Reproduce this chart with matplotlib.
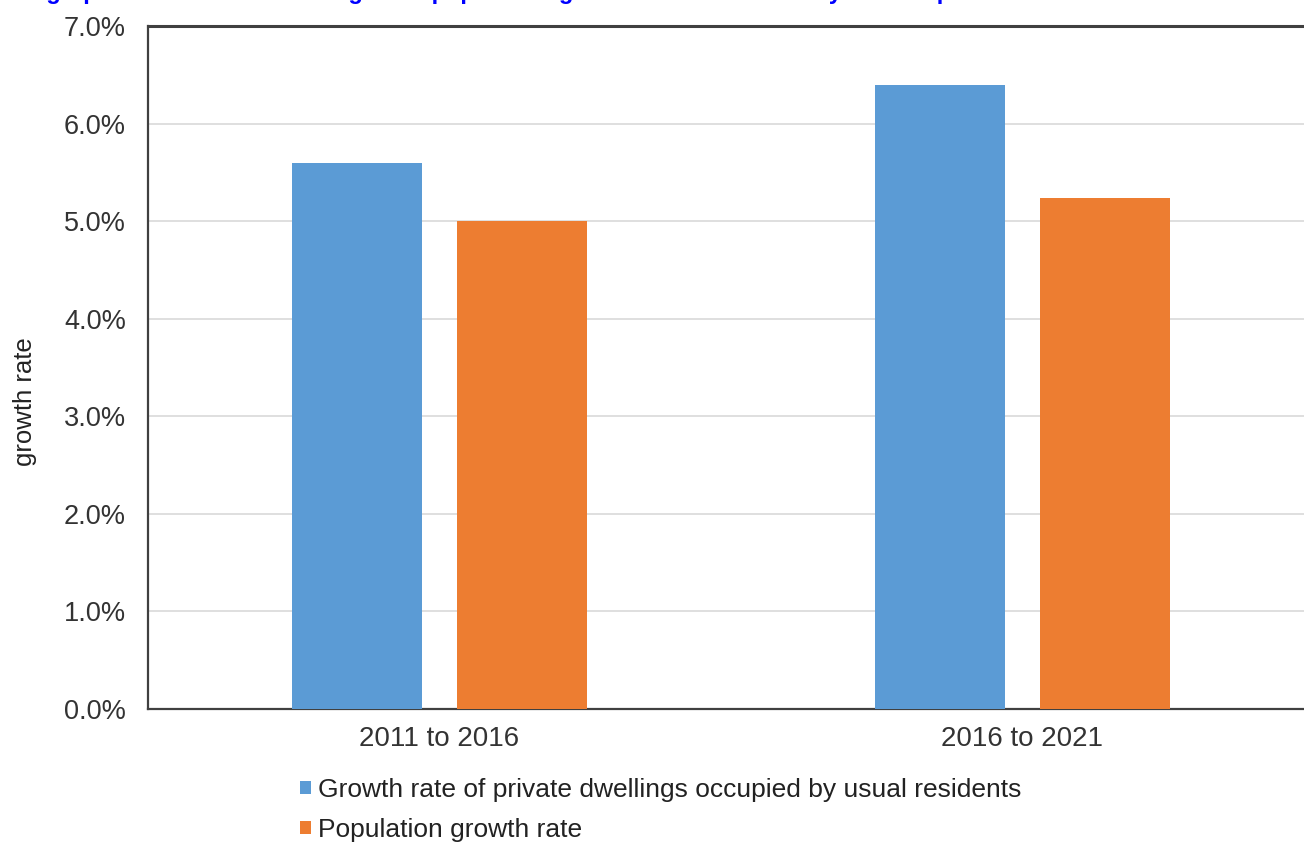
import matplotlib
matplotlib.use("Agg")
import matplotlib.pyplot as plt
import numpy as np
from matplotlib.ticker import FuncFormatter

plt.rcParams['font.family'] = ['Liberation Sans', 'DejaVu Sans']

categories = ["2011 to 2016", "2016 to 2021"]
dwellings = [5.6, 6.4]
population = [5.0, 5.24]
series_names = ["Growth rate of private dwellings occupied by usual residents",
                "Population growth rate"]
colors = ["#5B9BD5", "#ED7D31"]
title = "Bar graph of the rate of dwellings and population growth rate in Canada by census period"

fig = plt.figure(figsize=(13.04, 8.43), dpi=100)
ax = fig.add_axes([148/1304, 1-709/843, 1166/1304, (709-26)/843])

x = np.arange(len(categories))
w = 0.223
off = 0.142
b1 = ax.bar(x - off, dwellings, w, color=colors[0], label=series_names[0], zorder=3)
b2 = ax.bar(x + off, population, w, color=colors[1], label=series_names[1], zorder=3)

ax.set_xlim(-0.5, 1.5)
ax.set_ylim(0, 7.0)
ax.set_yticks(np.arange(0, 7.01, 1.0))
ax.yaxis.set_major_formatter(FuncFormatter(lambda v, p: f"{v:.1f}%"))
ax.set_xticks(x)
ax.set_xticklabels(categories)
ax.tick_params(axis='y', length=0, pad=16, labelsize=19.5, labelcolor='#333333')
ax.tick_params(axis='x', length=0, pad=12, labelsize=20, labelcolor='#333333')
ax.grid(axis='y', color='#d9d9d9', linewidth=1.2, zorder=0)
ax.set_axisbelow(True)

for s in ['left', 'bottom']:
    ax.spines[s].set_color('#404040')
    ax.spines[s].set_linewidth(1.6)
ax.spines['top'].set_color('#404040')
ax.spines['top'].set_linewidth(2.2)
ax.spines['right'].set_visible(False)

fig.text(25/1304, 1-402/843, "growth rate", rotation=90, ha='center', va='center',
         fontsize=18.5, color='#222222')

fig.legend(handles=[b1, b2], loc='center left', bbox_to_anchor=(300/1304, 1-810/843),
           frameon=False, fontsize=19, handlelength=0.4, handleheight=0.4,
           handletextpad=0.3, labelspacing=0.62, borderpad=0, borderaxespad=0,
           labelcolor='#222222')

fig.text(0.0, 1.0 + 1/843, title, ha='left', va='baseline', fontsize=17, fontweight='bold',
         color='#0000ff')

fig.savefig("out.png", dpi=100)
